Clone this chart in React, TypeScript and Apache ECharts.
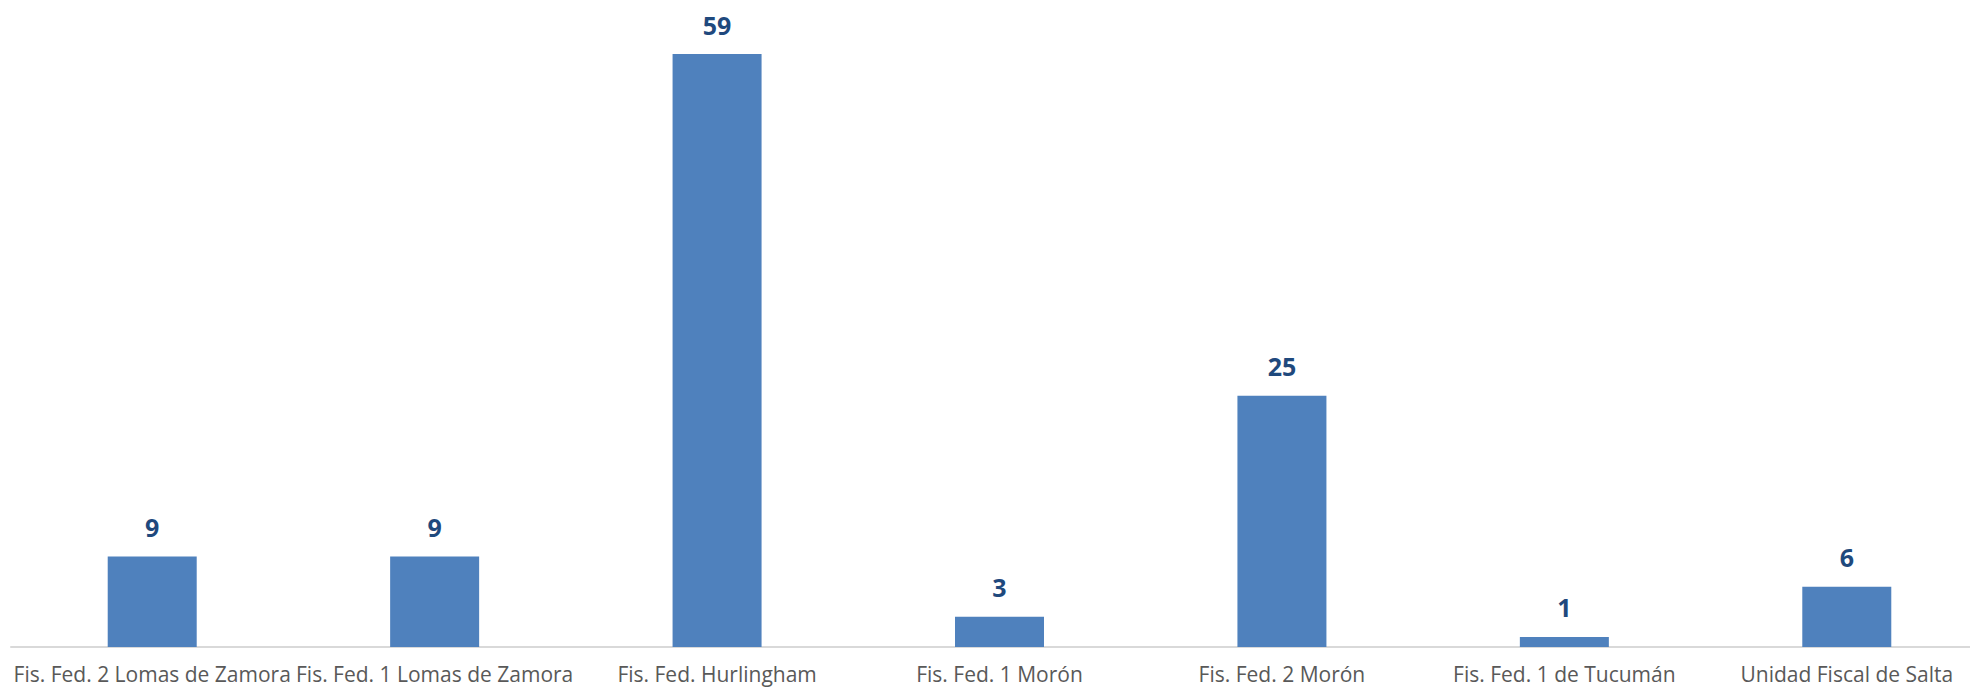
import React, { useEffect, useRef } from "react";
import * as echarts from "echarts";

const categories = [
  "Fis. Fed. 2 Lomas de Zamora",
  "Fis. Fed. 1 Lomas de Zamora",
  "Fis. Fed. Hurlingham",
  "Fis. Fed. 1 Morón",
  "Fis. Fed. 2 Morón",
  "Fis. Fed. 1 de Tucumán",
  "Unidad Fiscal de Salta",
];
const values = [9, 9, 59, 3, 25, 1, 6];

export default function App() {
  const ref = useRef<HTMLDivElement>(null);
  useEffect(() => {
    if (!ref.current) return;
    const chart = echarts.init(ref.current, null, { renderer: "svg" });
    chart.setOption({
      animation: false,
      grid: { left: 11, top: 44, width: 1977, height: 603, containLabel: false },
      xAxis: {
        type: "category",
        data: categories,
        axisLine: { show: true, lineStyle: { color: "#d9d9d9", width: 2 } },
        axisTick: { show: false },
        axisLabel: {
          interval: 0,
          color: "#595959",
          fontFamily: "Open Sans",
          fontSize: 21,
          margin: 16,
        },
      },
      yAxis: {
        type: "value",
        min: 0,
        max: 60,
        show: false,
        splitLine: { show: false },
      },
      series: [
        {
          type: "bar",
          data: values,
          barWidth: 89,
          itemStyle: { color: "#4F81BD" },
          label: {
            show: true,
            position: "top",
            distance: 17,
            color: "#1F497D",
            fontWeight: "bold",
            fontFamily: "Open Sans",
            fontSize: 25,
          },
        },
      ],
    });
    return () => chart.dispose();
  }, []);
  return (
    <div style={{ position: "fixed", left: 0, top: 0, width: 1970, height: 690, overflow: "hidden", background: "#fff" }}>
      <div ref={ref} style={{ width: 2000, height: 690 }} />
    </div>
  );
}
